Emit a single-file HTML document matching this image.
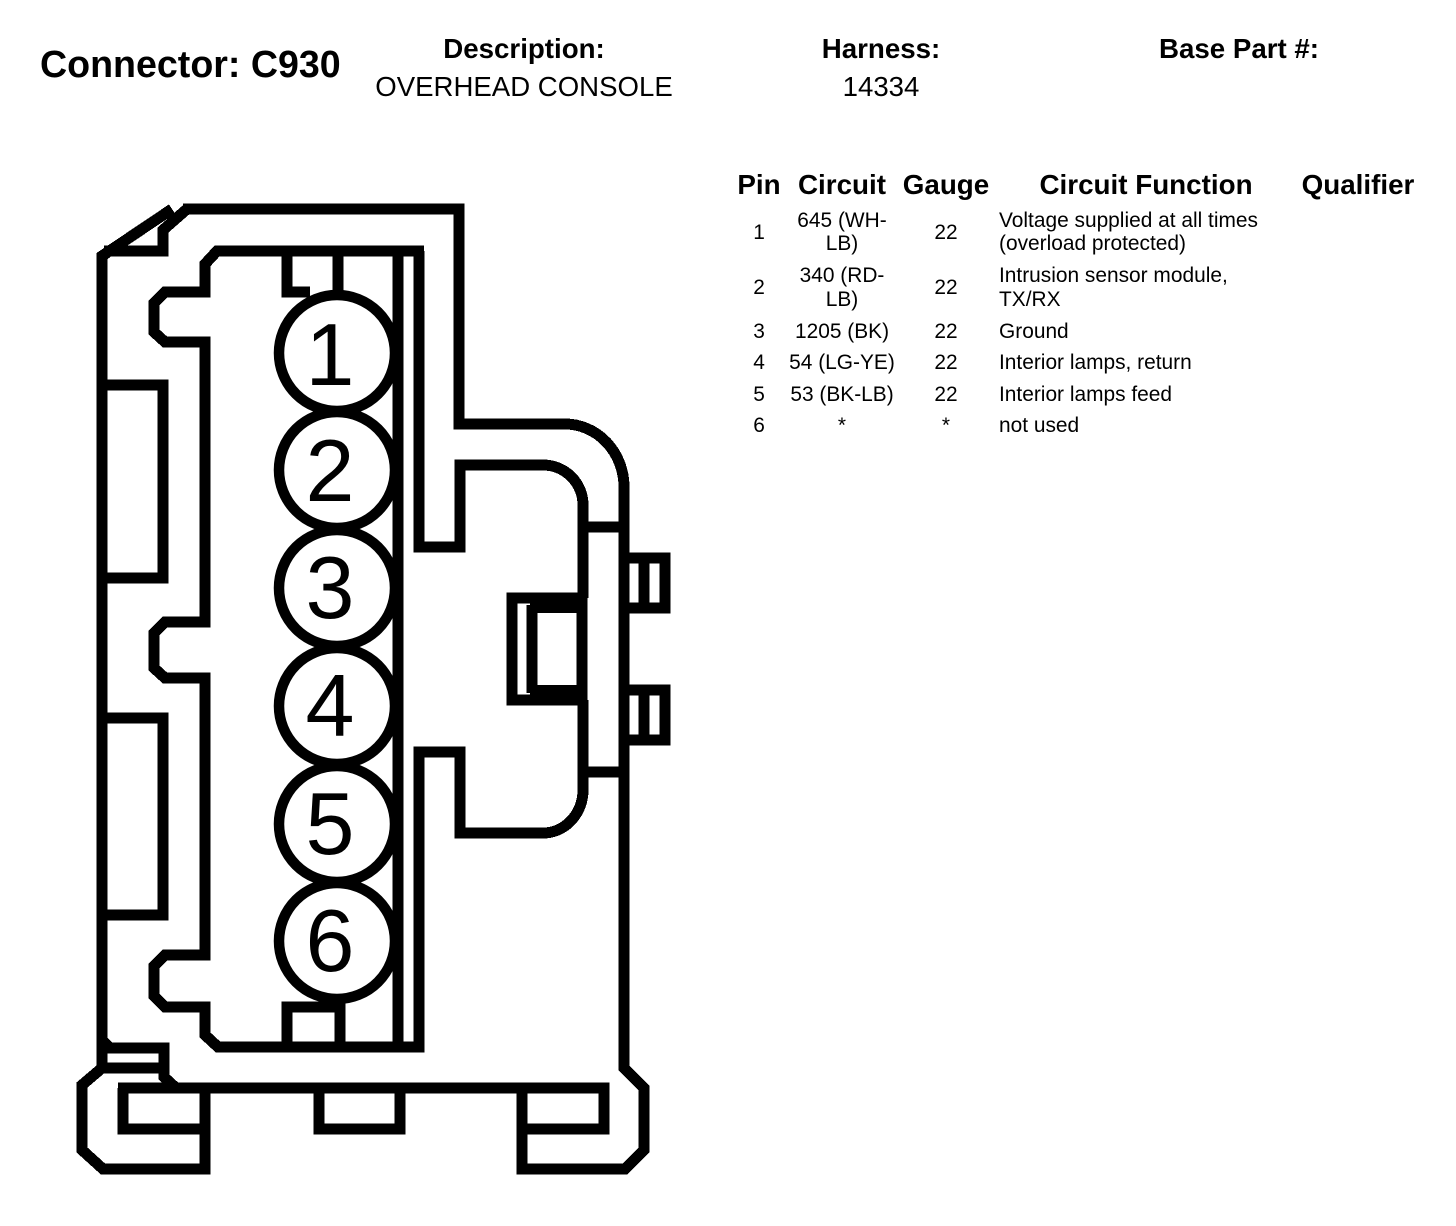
<!DOCTYPE html>
<html><head><meta charset="utf-8"><style>
html,body{margin:0;padding:0;background:#fff}
svg{display:block}
text{font-family:"Liberation Sans",Arial,sans-serif;fill:#000}
.b{font-weight:bold;font-size:27.7px}
.h{font-weight:bold;font-size:27.8px}
.r{font-size:20.9px}
.m{text-anchor:middle}
.l{fill:none;stroke:#000;stroke-width:11;stroke-linejoin:miter;stroke-linecap:butt;shape-rendering:crispEdges}
.d{font-size:88px;text-anchor:middle}
</style></head><body>
<svg width="1456" height="1226" viewBox="0 0 1456 1226" xmlns="http://www.w3.org/2000/svg">
<rect width="1456" height="1226" fill="#fff"/>
<text x="40" y="77" style="font-weight:bold;font-size:37.6px">Connector: C930</text>
<text x="524" y="58" class="b m">Description:</text>
<text x="524" y="96" class="m" style="font-size:27.6px">OVERHEAD CONSOLE</text>
<text x="881" y="58" class="b m">Harness:</text>
<text x="881" y="96" class="m" style="font-size:27.6px">14334</text>
<text x="1239" y="58" class="b m">Base Part #:</text>

<text x="759" y="194" class="h m">Pin</text>
<text x="842" y="194" class="h m">Circuit</text>
<text x="946" y="194" class="h m">Gauge</text>
<text x="1146" y="194" class="h m">Circuit Function</text>
<text x="1358" y="194" class="h m">Qualifier</text>

<g class="r">
<text x="759" y="239" class="m">1</text>
<text x="842" y="227" class="m">645 (WH-</text>
<text x="842" y="250" class="m">LB)</text>
<text x="946" y="239" class="m">22</text>
<text x="999" y="227">Voltage supplied at all times</text>
<text x="999" y="250">(overload protected)</text>
<text x="759" y="294" class="m">2</text>
<text x="842" y="282" class="m">340 (RD-</text>
<text x="842" y="306" class="m">LB)</text>
<text x="946" y="294" class="m">22</text>
<text x="999" y="282">Intrusion sensor module,</text>
<text x="999" y="306">TX/RX</text>
<text x="759" y="338" class="m">3</text>
<text x="842" y="338" class="m">1205 (BK)</text>
<text x="946" y="338" class="m">22</text>
<text x="999" y="338">Ground</text>
<text x="759" y="369" class="m">4</text>
<text x="842" y="369" class="m">54 (LG-YE)</text>
<text x="946" y="369" class="m">22</text>
<text x="999" y="369">Interior lamps, return</text>
<text x="759" y="401" class="m">5</text>
<text x="842" y="401" class="m">53 (BK-LB)</text>
<text x="946" y="401" class="m">22</text>
<text x="999" y="401">Interior lamps feed</text>
<text x="759" y="432" class="m">6</text>
<text x="842" y="432" class="m">*</text>
<text x="946" y="432" class="m">*</text>
<text x="999" y="432">not used</text>
</g>

<g class="l">
<path d="M183 209H459V424H565A59 63 0 0 1 624 487V1068L644 1088V1150L625 1169H522V1088"/>
<path d="M187 209L163 230V251H104M172 209L102 256V1068"/>
<path d="M424 251H217L205 264V292H165L154 303V332L165 342H205V622H165L154 633V668L165 678H205V955H165L154 966V996L165 1007H205V1035L218 1047H419V752H460V833H543A40 43 0 0 0 583 790V700"/>
<path d="M419 251V547H460V465H543A40 40 0 0 1 583 505V598"/>
<path d="M102 385H163V578H102M102 718H163V915H102"/>
<path d="M287 251V292H310M338 251V295M287 1047V1007H340V1047"/>
<path d="M583 527H624M583 772H624"/>
<path d="M582 598H512V700H582"/>
<path d="M532 605V693"/>
<path d="M582 598V700"/>
<path d="M624 558H665V608H624M644 558V608M624 690H665V740H624M644 690V740"/>
<path d="M118 1088H604V1129H522M123 1088V1129H205M205 1088V1169H103L82 1150V1085L102 1068H164M102 1040L110 1048H164V1077L176 1088M319 1088V1129H400V1088"/>
</g>
<rect x="530" y="593" width="52" height="20" fill="#000" shape-rendering="crispEdges"/>
<rect x="530" y="685" width="52" height="20" fill="#000" shape-rendering="crispEdges"/>

<g fill="#fff" stroke="#000" stroke-width="10.5">
<circle cx="337" cy="353" r="58"/>
<circle cx="337" cy="470" r="58"/>
<circle cx="337" cy="588" r="58"/>
<circle cx="337" cy="706" r="58"/>
<circle cx="337" cy="824" r="58"/>
<circle cx="337" cy="941" r="58"/>
</g>
<path class="l" d="M398 251V1047"/>
<text x="330" y="385" class="d">1</text>
<text x="330" y="501" class="d">2</text>
<text x="330" y="618" class="d">3</text>
<text x="330" y="736" class="d">4</text>
<text x="330" y="854" class="d">5</text>
<text x="330" y="971" class="d">6</text>
</svg>
</body></html>
